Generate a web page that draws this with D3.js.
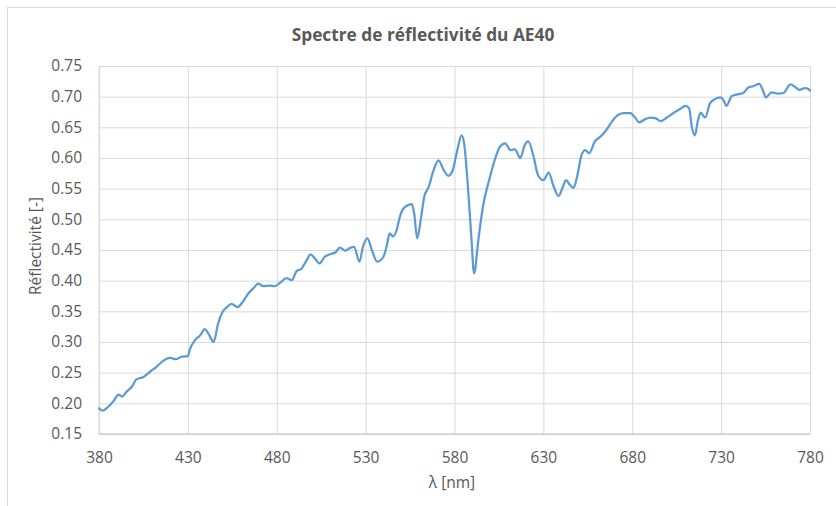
<!DOCTYPE html>
<html><head><meta charset="utf-8">
<script src="https://cdn.jsdelivr.net/npm/d3@7/dist/d3.min.js"></script>
<style>
html,body{margin:0;padding:0;background:#fff;}
svg{display:block;}
text{font-family:"Open Sans","Noto Sans",sans-serif;fill:#595959;}
</style></head>
<body><svg id="chart" width="836" height="506"></svg>
<script>
const title = "Spectre de réflectivité du AE40";
const xTitle = "λ [nm]";
const yTitle = "Réflectivité [-]";
const xTicks = [380,430,480,530,580,630,680,730,780];
const yTicks = [0.15,0.20,0.25,0.30,0.35,0.40,0.45,0.50,0.55,0.60,0.65,0.70,0.75];
const wavelength = [380,382,385,388,391,393,395.5,398.5,401,405,409,412.5,415.5,420,423.5,426.5,430,431,434,437,439.5,441.5,444.5,447,449.5,452,454.5,458,461,464,467,469.5,472.5,476,479,482,485.5,488.5,491,494,497,499,501.5,504,507,510,513,515.5,518.5,521,523.5,526.5,528.5,531,533.5,536.5,540,542,543.5,545.5,547.5,549.5,552,556,557.3,559,561,563,565.5,568,571,574,576.5,579,581.5,584,585.5,587.5,589.5,591,593.4,596,599.5,603,605.5,608.5,611.5,614,617,619.5,621.5,624.5,627,630,633,635.5,638.5,641,642.7,645,647,649,651.5,653.5,655.7,659,663,665.5,668.5,671.5,675,679,681,684,687,690,693,696,699.5,703,707,710,712,713.5,715.3,716.8,718.5,721,723.7,726.5,729.5,731.2,733,736,739.7,742.5,745.3,748,751.5,753.4,755.2,758.4,762,765,769,771.5,774,777,779,780];
const reflectance = [0.192,0.188,0.194,0.203,0.214,0.211,0.219,0.227,0.239,0.243,0.252,0.260,0.268,0.274,0.272,0.276,0.277,0.287,0.303,0.311,0.321,0.314,0.300,0.330,0.349,0.357,0.362,0.357,0.366,0.379,0.388,0.395,0.391,0.392,0.391,0.397,0.404,0.401,0.415,0.420,0.434,0.443,0.436,0.428,0.439,0.443,0.446,0.454,0.449,0.453,0.455,0.431,0.455,0.469,0.450,0.431,0.439,0.458,0.477,0.472,0.483,0.507,0.520,0.525,0.510,0.469,0.499,0.537,0.553,0.578,0.596,0.580,0.571,0.580,0.612,0.637,0.622,0.555,0.470,0.412,0.466,0.521,0.564,0.600,0.618,0.624,0.613,0.614,0.600,0.621,0.627,0.602,0.572,0.564,0.576,0.556,0.538,0.553,0.564,0.556,0.551,0.570,0.605,0.613,0.608,0.627,0.637,0.646,0.659,0.669,0.673,0.673,0.668,0.658,0.663,0.666,0.665,0.660,0.666,0.673,0.680,0.685,0.681,0.651,0.637,0.659,0.674,0.666,0.689,0.696,0.699,0.695,0.685,0.701,0.704,0.706,0.715,0.717,0.721,0.711,0.699,0.707,0.705,0.706,0.720,0.716,0.711,0.714,0.713,0.710];

const data = wavelength.map((w,i)=>({w, r: reflectance[i]}));
const svg = d3.select("#chart");
const L=99, R=810, T=66, B=434;
const x = d3.scaleLinear().domain([380,780]).range([L,R]);
const y = d3.scaleLinear().domain([0.15,0.75]).range([B,T]);

// chart border
svg.append("rect").attr("x",7.5).attr("y",7.5).attr("width",840).attr("height",520)
  .attr("fill","#fff").attr("stroke","#d9d9d9").attr("stroke-width",1);

// y grid + labels
const gy = svg.append("g").attr("transform",`translate(${L},0)`)
  .call(d3.axisLeft(y).tickValues(yTicks).tickFormat(d3.format(".2f")).tickSize(-(R-L)).tickPadding(17));
gy.select(".domain").remove();
gy.selectAll(".tick line").attr("stroke","#d9d9d9").attr("stroke-width",1);
gy.selectAll(".tick text").attr("fill","#595959").style("font-size","15.5px");

const gx = svg.append("g").attr("transform",`translate(0,${B})`)
  .call(d3.axisBottom(x).tickValues(xTicks).tickFormat(d3.format("d")).tickSize(-(B-T)).tickPadding(17.5));
gx.select(".domain").remove();
gx.selectAll(".tick line").attr("stroke","#d9d9d9").attr("stroke-width",1);
gx.selectAll(".tick text").attr("fill","#595959").style("font-size","15.5px");

// axis lines
svg.append("line").attr("x1",L).attr("x2",L).attr("y1",T).attr("y2",B).attr("stroke","#d9d9d9");
svg.append("line").attr("x1",L).attr("x2",R).attr("y1",B).attr("y2",B).attr("stroke","#bfbfbf");

// series
svg.append("path").datum(data)
  .attr("fill","none").attr("stroke","#5b9bd5").attr("stroke-width",2.25)
  .attr("stroke-linejoin","round").attr("stroke-linecap","round")
  .attr("d", d3.line().x(d=>x(d.w)).y(d=>y(d.r)).curve(d3.curveMonotoneX));

// titles
svg.append("text").attr("x",423).attr("y",41).attr("text-anchor","middle")
  .style("font-size","17.3px").style("font-weight","bold").text(title);
svg.append("text").attr("x",452).attr("y",488).attr("text-anchor","middle")
  .style("font-size","15.5px").text(xTitle);
svg.append("text").attr("transform","translate(41,246) rotate(-90)").attr("text-anchor","middle")
  .style("font-size","15.5px").text(yTitle);
</script></body></html>
